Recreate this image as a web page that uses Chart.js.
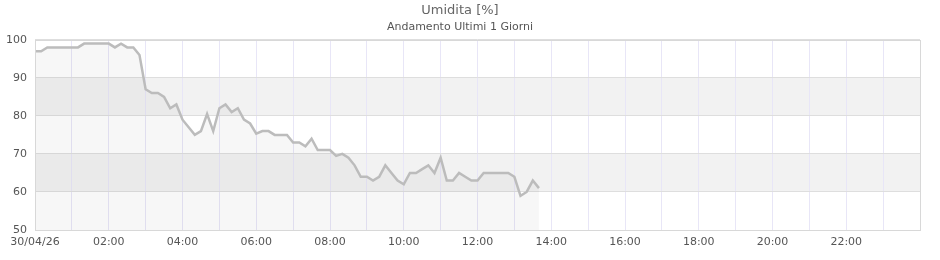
<!DOCTYPE html>
<html>
<head>
<meta charset="utf-8">
<title>Umidita</title>
<script src="https://cdn.jsdelivr.net/npm/chart.js@4/dist/chart.umd.min.js"></script>
<style>
  html, body { margin: 0; padding: 0; background: #fff; }
  #wrap { width: 940px; height: 260px; }
</style>
</head>
<body>
<div id="wrap"><canvas id="humChart" width="940" height="260"></canvas></div>
<script>
// sample times (HH:MM) on 30/04/26
const times = [
  "00:00","00:10","00:20","00:30","00:40","00:50","01:00","01:10","01:20","01:30","01:40","01:50",
  "02:00","02:10","02:20","02:30","02:40","02:50","03:00","03:10","03:20","03:30","03:40","03:50",
  "04:00","04:10","04:20","04:30","04:40","04:50","05:00","05:10","05:20","05:30","05:40","05:50",
  "06:00","06:10","06:20","06:30","06:40","06:50","07:00","07:10","07:20","07:30","07:40","07:50",
  "08:00","08:10","08:20","08:30","08:40","08:50","09:00","09:10","09:20","09:30","09:40","09:50",
  "10:00","10:10","10:20","10:30","10:40","10:50","11:00","11:10","11:20","11:30","11:40","11:50",
  "12:00","12:10","12:20","12:30","12:40","12:50","13:00","13:10","13:20","13:30","13:40"
];
// humidity %
const humidity = [
  97, 97, 98, 98, 98, 98, 98, 98, 99, 99, 99, 99,
  99, 98, 99, 98, 98, 96, 87, 86, 86, 85, 82, 83,
  79, 77, 75, 76, 80.5, 76, 82, 83, 81, 82, 79, 78,
  75.3, 76, 76, 75, 75, 75, 73, 73, 72, 74, 71, 71,
  71, 69.5, 70, 69, 67, 64, 64, 63, 64, 67, 65, 63,
  62, 65, 65, 66, 67, 65, 69, 63, 63, 65, 64, 63,
  63, 65, 65, 65, 65, 65, 64, 59, 60, 63, 61
];
const yTicks = [50, 60, 70, 80, 90, 100];
const shadedBands = [[60, 70], [80, 90]];
const dayLabel = "30/04/26";

function toMinutes(hhmm) {
    const p = hhmm.split(":");
    return parseInt(p[0], 10) * 60 + parseInt(p[1], 10);
}
const points = times.map((t, i) => ({ x: toMinutes(t), y: humidity[i] }));

// 📊 shaded bands + frame
const bandsPlugin = {
    id: "bands",
    beforeDraw(chart) {
        const { ctx, chartArea: a, scales: { y } } = chart;
        ctx.save();
        ctx.fillStyle = "#f2f2f2";
        shadedBands.forEach(([lo, hi]) => {
            const top = y.getPixelForValue(hi);
            const bot = y.getPixelForValue(lo);
            ctx.fillRect(a.left, top, a.right - a.left, bot - top);
        });
        ctx.restore();
    },
    afterDraw(chart) {
        const { ctx, chartArea: a } = chart;
        ctx.save();
        ctx.strokeStyle = "#d8d8d8";
        ctx.lineWidth = 1;
        ctx.strokeRect(Math.round(a.left) + 0.5, Math.round(a.top) + 0.5,
            Math.round(a.right - a.left), Math.round(a.bottom - a.top));
        ctx.restore();
    }
};

const ctx = document.getElementById("humChart").getContext("2d");
new Chart(ctx, {
    type: "line",
    data: {
        datasets: [{
            data: points,
            borderColor: "#bcbcbc",
            borderWidth: 2.5,
            backgroundColor: "rgba(0,0,0,0.03)",
            fill: "start",
            pointRadius: 0,
            tension: 0
        }]
    },
    options: {
        responsive: false,
        animation: false,
        devicePixelRatio: 1,
        layout: { padding: { left: 0, right: 20, top: 0, bottom: 0 } },
        plugins: {
            legend: { display: false },
            tooltip: { enabled: false },
            title: {
                display: true,
                text: "Umidita [%]",
                color: "#666",
                font: { family: "DejaVu Sans", size: 13, weight: "normal" },
                padding: { top: 3, bottom: 2 }
            },
            subtitle: {
                display: true,
                text: "Andamento Ultimi 1 Giorni",
                color: "#555",
                font: { family: "DejaVu Sans", size: 11, weight: "normal" },
                padding: { top: 0, bottom: 6 }
            }
        },
        scales: {
            x: {
                type: "linear",
                min: 0,
                max: 1440,
                afterFit: s => { s.height = 30; },
                afterBuildTicks: s => {
                    s.ticks = [];
                    for (let m = 0; m <= 1380; m += 60) s.ticks.push({ value: m });
                },
                grid: { color: "#e8e6f7", drawTicks: false },
                border: { display: false },
                ticks: {
                    autoSkip: false,
                    maxRotation: 0,
                    padding: 6,
                    color: "#555",
                    font: { family: "DejaVu Sans", size: 11 },
                    callback: v => {
                        if (v === 0) return dayLabel;
                        if (v % 120 !== 0) return "";
                        const h = v / 60;
                        return (h < 10 ? "0" : "") + h + ":00";
                    }
                }
            },
            y: {
                min: 50,
                max: 100,
                afterFit: s => { s.width = 35; },
                afterBuildTicks: s => { s.ticks = yTicks.map(v => ({ value: v })); },
                grid: { color: "#dedede", drawTicks: false },
                border: { display: false },
                ticks: {
                    padding: 8,
                    color: "#555",
                    font: { family: "DejaVu Sans", size: 11 }
                }
            }
        }
    },
    plugins: [bandsPlugin]
});
</script>
</body>
</html>
